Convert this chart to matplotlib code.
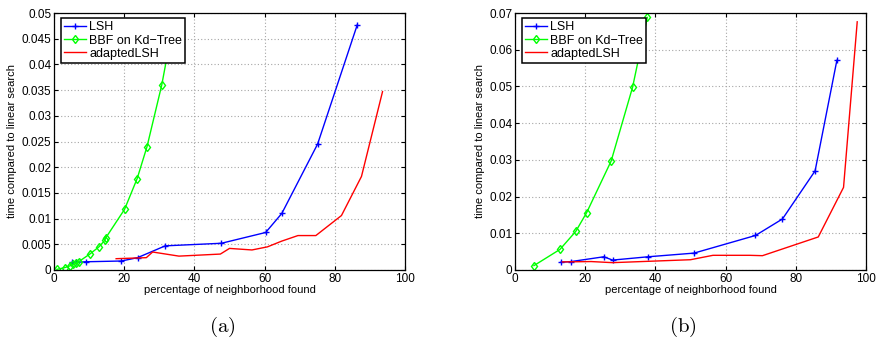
import matplotlib
matplotlib.use("Agg")
import matplotlib.pyplot as plt

plt.rcParams["font.family"] = ["Liberation Sans", "DejaVu Sans"]
plt.rcParams["mathtext.fontset"] = "cm"

# (a) left panel
a_lsh_x = [5.2, 6.3, 9.0, 19.2, 23.8, 31.7, 47.7, 60.3, 64.9, 75.1, 86.4]
a_lsh_y = [0.0015, 0.0015, 0.0016, 0.00175, 0.0024, 0.0047, 0.0052, 0.0073, 0.011, 0.0245, 0.0477]
a_bbf_x = [0.8, 3.0, 4.5, 5.5, 6.3, 7.0, 10.2, 12.8, 14.5, 14.7, 20.1, 23.7, 26.5, 30.7, 33.9]
a_bbf_y = [0.00012, 0.00045, 0.0008, 0.0011, 0.0013, 0.0016, 0.0031, 0.0045, 0.0058, 0.0062,
           0.0118, 0.0178, 0.024, 0.036, 0.0477]
a_ada_x = [17.7, 26.3, 28.1, 35.6, 47.4, 50.0, 56.4, 60.8, 64.8, 69.5, 74.6, 81.9, 87.6, 93.6]
a_ada_y = [0.0022, 0.0024, 0.0035, 0.0027, 0.0031, 0.0042, 0.0039, 0.0045, 0.0056, 0.0067,
           0.0067, 0.0106, 0.0182, 0.0347]

# (b) right panel
b_lsh_x = [13.0, 16.0, 25.3, 27.8, 37.9, 51.0, 68.5, 76.2, 85.5, 91.7]
b_lsh_y = [0.0021, 0.0023, 0.0036, 0.0027, 0.0036, 0.0046, 0.0094, 0.0139, 0.027, 0.0571]
b_bbf_x = [5.4, 12.8, 17.3, 20.4, 27.4, 33.5, 37.7]
b_bbf_y = [0.0012, 0.0056, 0.0105, 0.0156, 0.0297, 0.0498, 0.0688]
b_ada_x = [13.5, 21.7, 27.8, 50.0, 56.4, 66.9, 70.5, 86.4, 93.6, 97.5]
b_ada_y = [0.0022, 0.0023, 0.0020, 0.0028, 0.0040, 0.0040, 0.0039, 0.0090, 0.0225, 0.0676]

labels = ["LSH", "BBF on Kd\u2212Tree", "adaptedLSH"]
x_ticks = [0, 20, 40, 60, 80, 100]


def draw(ax, lsh, bbf, ada, ymax, yticks, ytl):
    ax.plot(lsh[0], lsh[1], color="b", lw=1.0, marker="+", ms=5, mew=1.0, label=labels[0])
    ax.plot(bbf[0], bbf[1], color="#00ff00", lw=1.0, marker="d", ms=4.5, mew=1.0,
            mfc="none", label=labels[1])
    ax.plot(ada[0], ada[1], color="r", lw=1.0, label=labels[2])
    ax.set_xlim(0, 100)
    ax.set_ylim(0, ymax)
    ax.set_xticks(x_ticks)
    ax.set_yticks(yticks)
    ax.set_yticklabels(ytl)
    ax.grid(True, ls=(0, (1, 2)), color="0.65", lw=0.8)
    ax.tick_params(direction="in", top=True, right=True, length=3, labelsize=8.5, pad=2)
    for s in ax.spines.values():
        s.set_linewidth(0.9)
    ax.set_xlabel("percentage of neighborhood found", fontsize=8, labelpad=0)
    ax.set_ylabel("time compared to linear search", fontsize=8, labelpad=3)
    leg = ax.legend(loc="upper left", bbox_to_anchor=(0.021, 0.98), borderaxespad=0,
                    fancybox=False, framealpha=1, edgecolor="k", fontsize=9,
                    handlelength=1.75, handletextpad=0.25, labelspacing=0.1,
                    borderpad=0.25, markerscale=1.0)
    leg.get_frame().set_linewidth(1.1)


fig = plt.figure(figsize=(8.76, 3.39), dpi=100)
ax1 = fig.add_axes([54 / 876, 69 / 339, 351 / 876, 257 / 339])
ax2 = fig.add_axes([515 / 876, 69 / 339, 351 / 876, 257 / 339])

draw(ax1, (a_lsh_x, a_lsh_y), (a_bbf_x, a_bbf_y), (a_ada_x, a_ada_y), 0.05,
     [0, 0.005, 0.01, 0.015, 0.02, 0.025, 0.03, 0.035, 0.04, 0.045, 0.05],
     ["0", "0.005", "0.01", "0.015", "0.02", "0.025", "0.03", "0.035", "0.04", "0.045", "0.05"])
draw(ax2, (b_lsh_x, b_lsh_y), (b_bbf_x, b_bbf_y), (b_ada_x, b_ada_y), 0.07,
     [0, 0.01, 0.02, 0.03, 0.04, 0.05, 0.06, 0.07],
     ["0", "0.01", "0.02", "0.03", "0.04", "0.05", "0.06", "0.07"])

fig.text(222 / 876, 1 - 327 / 339, r"$\mathrm{(a)}$", fontsize=15, ha="center", va="center")
fig.text(683 / 876, 1 - 327 / 339, r"$\mathrm{(b)}$", fontsize=15, ha="center", va="center")

fig.savefig("out.png", dpi=100)
